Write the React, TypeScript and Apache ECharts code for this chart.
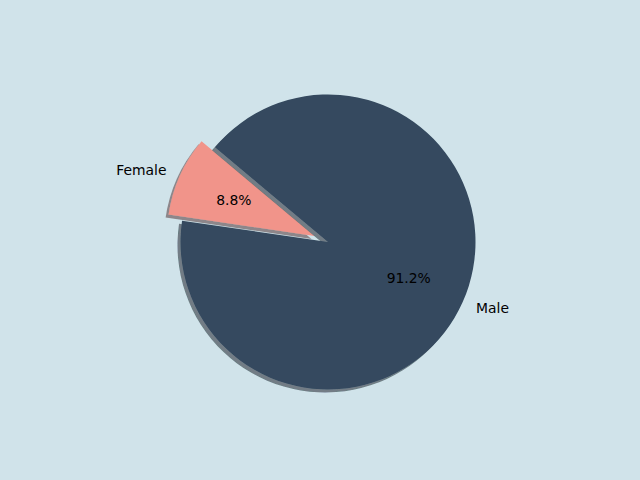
import React, { useEffect, useRef } from "react";
import * as echarts from "echarts";

const categories = ["Female", "Male"];
const values = [8.8, 91.2];
const colors = ["#f1948a", "#34495e"];
const shadowColors = ["rgba(72,44,41,0.5)", "rgba(16,22,28,0.5)"];
const exploded = [true, false];

export default function App() {
  const ref = useRef<HTMLDivElement>(null);
  useEffect(() => {
    if (!ref.current) return;
    const chart = echarts.init(ref.current, undefined, { renderer: "svg" });
    const R = 147.5;
    const total = values.reduce((a, b) => a + b, 0);
    const common = {
      type: "pie",
      center: [328, 242],
      startAngle: 140,
      clockwise: false,
      selectedMode: "multiple",
      selectedOffset: R * 0.1,
      avoidLabelOverlap: false,
      silent: true,
      emphasis: { disabled: true },
    };
    chart.setOption({
      animation: false,
      backgroundColor: "#d0e3ea",
      series: [
        {
          ...common,
          radius: [0, R],
          z: 2,
          label: {
            show: true,
            position: "outside",
            formatter: "{b}",
            color: "#000",
            fontFamily: "DejaVu Sans",
            fontSize: 13.9,
            distanceToLabelLine: 0,
          },
          labelLine: { show: false, length: R * 0.1, length2: 0 },
          data: categories.map((c, i) => ({
            name: c,
            value: values[i],
            selected: exploded[i],
            itemStyle: {
              color: colors[i],
              borderWidth: 0,
              shadowColor: shadowColors[i],
              shadowBlur: 0,
              shadowOffsetX: -3,
              shadowOffsetY: 3,
            },
          })),
        },
        {
          ...common,
          radius: [R * 0.2 - 6, R],
          z: 3,
          label: {
            show: true,
            position: "inside",
            formatter: (p: any) => ((p.value / total) * 100).toFixed(1) + "%",
            color: "#000",
            fontFamily: "DejaVu Sans",
            fontSize: 13.9,
          },
          labelLine: { show: false },
          data: categories.map((c, i) => ({
            name: c,
            value: values[i],
            selected: exploded[i],
            itemStyle: { color: "rgba(0,0,0,0)", borderWidth: 0 },
          })),
        },
      ],
    });
    return () => chart.dispose();
  }, []);
  return (
    <div
      ref={ref}
      style={{ position: "fixed", left: 0, top: 0, width: 640, height: 480 }}
    />
  );
}
